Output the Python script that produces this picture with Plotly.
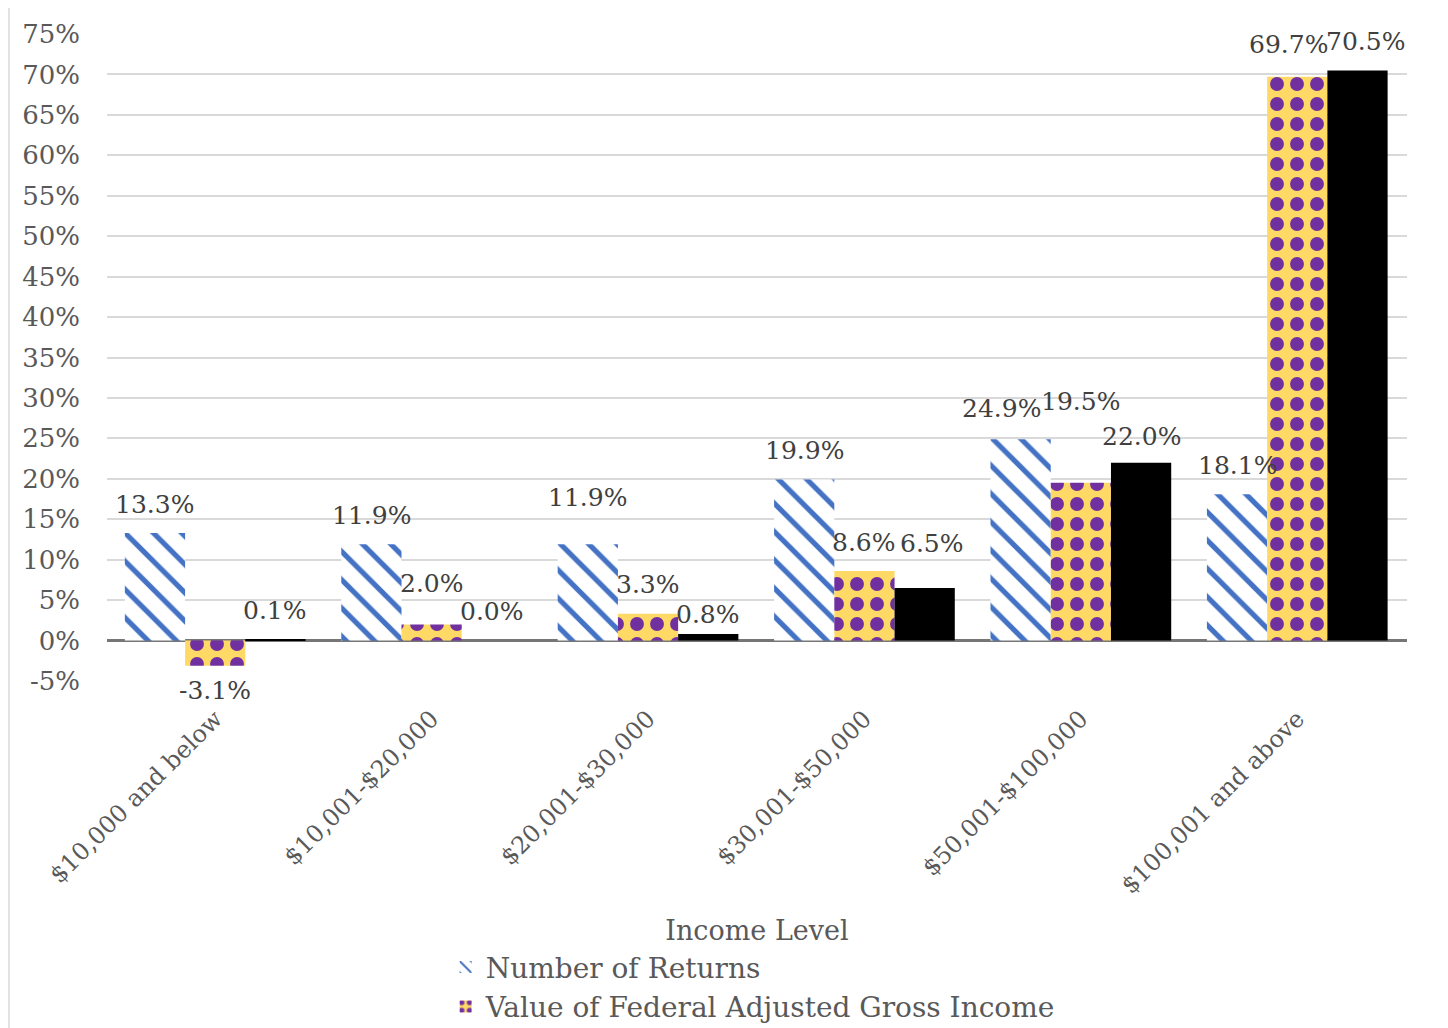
import plotly.graph_objects as go

categories = ["$10,000 and below", "$10,001-$20,000", "$20,001-$30,000",
              "$30,001-$50,000", "$50,001-$100,000", "$100,001 and above"]
number_of_returns = [13.3, 11.9, 11.9, 19.9, 24.9, 18.1]
value_fagi = [-3.1, 2.0, 3.3, 8.6, 19.5, 69.7]
third_series = [0.1, 0.0, 0.8, 6.5, 22.0, 70.5]
y_ticks = list(range(-5, 80, 5))

FONT = "DejaVu Serif"
BARGAP = 0.165
bw = (1 - BARGAP) / 3

fig = go.Figure()
fig.add_trace(go.Bar(
    x=categories, y=number_of_returns, name="Number of Returns",
    marker=dict(color="white", line=dict(width=0),
                pattern=dict(shape="\\", fgcolor="#4472C4", bgcolor="white",
                             fgopacity=1, size=20, solidity=0.26, fillmode="replace")),
))
fig.add_trace(go.Bar(
    x=categories, y=value_fagi, name="Value of Federal Adjusted Gross Income",
    marker=dict(color="#FFD966", line=dict(width=0),
                pattern=dict(shape=".", fgcolor="#7030A0", bgcolor="#FFD966",
                             fgopacity=1, size=20, solidity=0.38, fillmode="replace")),
))
fig.add_trace(go.Bar(
    x=categories, y=third_series, name="Series 3", showlegend=False,
    marker=dict(color="#000000", line=dict(width=0)),
))

# data labels (Excel "outside end" style, a few were nudged by hand in the original)
nudge = {(1, 1): (0, 12), (0, 2): (0, 18), (2, 2): (0, -9), (2, 3): (7, 15),
         (0, 4): (-19, 2), (1, 4): (0, 52), (2, 4): (0, -3),
         (1, 5): (-9, 3), (2, 5): (8, 0)}
series = [number_of_returns, value_fagi, third_series]
for s, vals in enumerate(series):
    for i, v in enumerate(vals):
        dx, dy = nudge.get((s, i), (0, 0))
        ys = 29 if v >= 0 else -25
        fig.add_annotation(
            x=i + (s - 1) * bw, y=v, xref="x", yref="y",
            text=f"{v:.1f}%", showarrow=False,
            xshift=dx, yshift=ys + dy,
            font=dict(family=FONT, size=25, color="#404040"),
        )

# chart border (left edge visible)
fig.add_shape(type="line", xref="paper", yref="paper",
              x0=-98 / 1300, x1=-98 / 1300, y0=-0.6, y1=1.1,
              line=dict(color="#D9D9D9", width=1.5))

fig.update_layout(
    width=1440, height=1020,
    margin=dict(l=99, r=41, t=26, b=347, autoexpand=False),
    paper_bgcolor="white", plot_bgcolor="white",
    barmode="group", bargap=BARGAP, bargroupgap=0,
    font=dict(family=FONT, size=25, color="#595959"),
    xaxis=dict(
        tickangle=-45, showgrid=False, showline=False, ticks="",
        automargin=False, ticklabelstandoff=18,
        tickfont=dict(family=FONT, size=24, color="#595959"),
        title=dict(text="Income Level", font=dict(family=FONT, size=27, color="#595959"),
                   standoff=22),
    ),
    yaxis=dict(
        range=[-5, 75], tickvals=y_ticks, ticktext=[f"{t}%" for t in y_ticks],
        showgrid=True, gridcolor="#D9D9D9", gridwidth=1.5,
        zeroline=True, zerolinecolor="#767676", zerolinewidth=3,
        showline=False, ticks="", ticklabelstandoff=26, automargin=False,
        tickfont=dict(family=FONT, size=26, color="#595959"),
    ),
    legend=dict(x=0.2605, xanchor="left", y=-0.404, yanchor="top",
                orientation="v", font=dict(family=FONT, size=28, color="#595959"),
                bgcolor="rgba(0,0,0,0)", tracegroupgap=0, itemsizing="constant"),
)

fig.write_html("out.html")
